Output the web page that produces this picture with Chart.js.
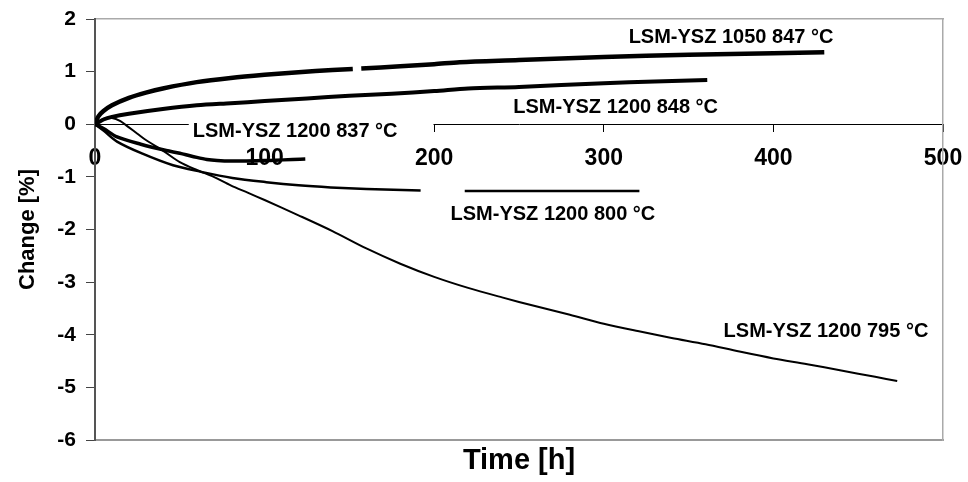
<!DOCTYPE html>
<html>
<head>
<meta charset="utf-8">
<script src="https://cdn.jsdelivr.net/npm/chart.js@4.4.1/dist/chart.umd.min.js"></script>
<style>
  html, body { margin: 0; padding: 0; background: #fff; }
  #wrap { width: 968px; height: 482px; position: relative; }
</style>
</head>
<body>
<div id="wrap"><canvas id="changeChart"></canvas></div>
<script>
// Datos (tiempo en h, cambio en %)
const timeA = [0, 2, 5, 10, 20, 30, 40, 60, 80, 100, 120, 140, 152, 155, 157, 180, 200, 215, 250, 300, 350, 400, 430];
const changeA = [0, 0.15, 0.25, 0.36, 0.5, 0.6, 0.68, 0.8, 0.88, 0.94, 0.99, 1.03, 1.05, null, 1.06, 1.1, 1.14, 1.18, 1.22, 1.28, 1.32, 1.35, 1.37];

const timeB = [0, 5, 10, 20, 40, 60, 80, 100, 125, 150, 175, 200, 220, 250, 300, 330, 361];
const changeB = [0, 0.09, 0.14, 0.2, 0.29, 0.36, 0.4, 0.44, 0.49, 0.54, 0.58, 0.63, 0.68, 0.71, 0.78, 0.81, 0.84];

const timeC = [0, 5, 13, 27, 42, 50, 60, 66, 72, 80, 100, 124];
const changeC = [0, -0.08, -0.24, -0.38, -0.5, -0.55, -0.63, -0.67, -0.69, -0.7, -0.69, -0.66];

const timeD = [0, 5, 13, 28, 46, 62, 81, 101, 120, 139, 160, 192, 205, 218, 260, 321];
const changeD = [0, -0.12, -0.33, -0.56, -0.78, -0.9, -1.02, -1.1, -1.16, -1.2, -1.23, -1.26, null, -1.27, -1.27, -1.27];

const timeE = [0, 5, 10, 15, 20, 25, 30, 40, 50, 60, 70, 80, 90, 100, 120, 140, 160, 180, 200, 220, 240, 260, 280, 300, 320, 340, 360, 380, 400, 420, 440, 460, 473];
const changeE = [0, 0.1, 0.12, 0.06, -0.06, -0.18, -0.3, -0.5, -0.72, -0.87, -1.0, -1.16, -1.3, -1.44, -1.73, -2.03, -2.36, -2.65, -2.9, -3.11, -3.29, -3.46, -3.62, -3.79, -3.93, -4.06, -4.18, -4.32, -4.45, -4.56, -4.68, -4.8, -4.88];

const labelTexts = ["LSM-YSZ 1050 847 °C", "LSM-YSZ 1200 848 °C", "LSM-YSZ 1200 837 °C", "LSM-YSZ 1200 800 °C", "LSM-YSZ 1200 795 °C"];
const labelTime = [375, 307, 118, 270, 431];
const labelChange = [1.65, 0.32, -0.13, -1.71, -3.94];

const FONT = "'Liberation Sans', Arial, sans-serif";

function puntos(ts, vs) {
    return ts.map((t, i) => ({ x: t, y: vs[i] }));
}

function serie(ts, vs, ancho) {
    return {
        data: puntos(ts, vs),
        showLine: true,
        borderColor: '#000',
        borderWidth: ancho,
        pointRadius: 0,
        spanGaps: false,
        tension: 0.3
    };
}

// sin relleno extra alrededor del area del grafico
function sinPadding(s) {
    s.paddingTop = 0;
    s.paddingBottom = 0;
    s.paddingLeft = 0;
    s.paddingRight = 0;
}

// Etiquetas con fondo blanco (tapan el eje como en el original)
const etiquetas = {
    id: 'etiquetas',
    beforeDatasetsDraw(chart) {
        const { ctx, scales } = chart;
        ctx.save();
        ctx.font = "bold 20px " + FONT;
        ctx.textAlign = 'left';
        ctx.textBaseline = 'middle';
        labelTexts.forEach((txt, i) => {
            const cx = scales.x.getPixelForValue(labelTime[i]);
            const cy = scales.y.getPixelForValue(labelChange[i]);
            const w = ctx.measureText(txt).width;
            const left = cx - w / 2;
            const extra = i === 2 ? 36 : 4;
            ctx.fillStyle = '#fff';
            ctx.fillRect(left - 4, cy - 11, w + 4 + extra, 22);
            ctx.fillStyle = '#000';
            ctx.fillText(txt, left, cy);
        });
        ctx.restore();
    }
};

const ctx = document.getElementById('changeChart').getContext('2d');
new Chart(ctx, {
    type: 'scatter',
    data: {
        datasets: [
            serie(timeA, changeA, 4.5),
            serie(timeB, changeB, 4),
            serie(timeC, changeC, 3.5),
            serie(timeD, changeD, 2.5),
            serie(timeE, changeE, 2)
        ]
    },
    options: {
        responsive: true,
        maintainAspectRatio: false,
        animation: false,
        layout: { padding: { top: 19, right: 25, left: 0, bottom: 0 } },
        plugins: {
            legend: { display: false },
            tooltip: { enabled: false }
        },
        scales: {
            x: {
                type: 'linear',
                position: { y: 0 },
                min: 0,
                max: 500,
                ticks: { stepSize: 100, color: '#000', padding: 14, maxRotation: 0, font: { family: FONT, size: 23, weight: 'bold' } },
                grid: { drawOnChartArea: false, drawTicks: true, tickLength: 7, color: '#000' },
                border: { color: '#000', width: 1 },
                afterFit: sinPadding
            },
            xb: {
                type: 'linear',
                position: 'bottom',
                min: 0,
                max: 500,
                ticks: { display: false },
                grid: { display: false, drawTicks: false },
                border: { color: '#999', width: 2 },
                title: { display: true, text: 'Time [h]', color: '#000', padding: { top: 0, bottom: 4 }, font: { family: FONT, size: 29, weight: 'bold' } },
                afterFit(s) { s.height = 42; sinPadding(s); }
            },
            xt: {
                type: 'linear',
                position: 'top',
                min: 0,
                max: 500,
                ticks: { display: false },
                grid: { display: false, drawTicks: false },
                border: { color: '#aaa', width: 1.5 },
                afterFit(s) { s.height = 0; sinPadding(s); }
            },
            y: {
                min: -6,
                max: 2,
                ticks: { stepSize: 1, color: '#000', padding: 10, font: { family: FONT, size: 21, weight: 'bold' } },
                grid: { drawOnChartArea: false, drawTicks: true, tickLength: 9, color: '#444' },
                border: { color: '#555', width: 2 },
                title: { display: true, text: 'Change [%]', color: '#000', padding: { top: 15, bottom: 0 }, font: { family: FONT, size: 22, weight: 'bold' } },
                afterFit(s) { s.width = 95; sinPadding(s); }
            },
            yr: {
                position: 'right',
                min: -6,
                max: 2,
                ticks: { display: false },
                grid: { display: false, drawTicks: false },
                border: { color: '#aaa', width: 1.5 },
                afterFit(s) { s.width = 0; sinPadding(s); }
            }
        }
    },
    plugins: [etiquetas]
});
</script>
</body>
</html>
